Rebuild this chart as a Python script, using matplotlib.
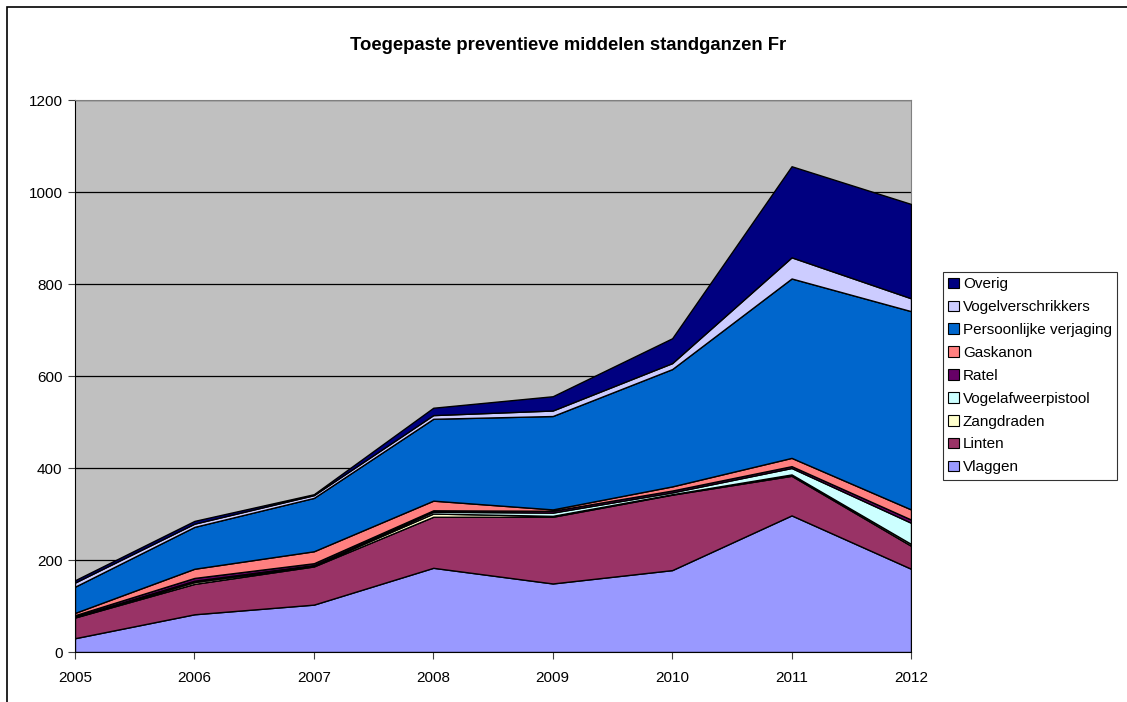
import numpy as np
import matplotlib.pyplot as plt
from matplotlib.patches import Patch, Rectangle

plt.rcParams['font.family'] = ['Liberation Sans', 'DejaVu Sans']

jaren = [2005, 2006, 2007, 2008, 2009, 2010, 2011, 2012]

vlaggen = [30, 82, 103, 183, 149, 178, 297, 181]
linten = [45, 66, 83, 111, 145, 164, 86, 50]
zangdraden = [1, 4, 2, 7, 2, 1, 3, 4]
vogelafweerpistool = [1, 3, 1, 4, 7, 4, 14, 46]
ratel = [3, 6, 4, 3, 4, 4, 4, 7]
gaskanon = [5, 20, 26, 21, 3, 9, 18, 22]
persoonlijk = [57, 91, 116, 178, 203, 255, 390, 431]
vogelverschrikkers = [9, 7, 6, 8, 12, 13, 46, 28]
overig = [5, 6, 2, 16, 31, 54, 198, 205]

namen = ['Vlaggen', 'Linten', 'Zangdraden', 'Vogelafweerpistool', 'Ratel',
         'Gaskanon', 'Persoonlijke verjaging', 'Vogelverschrikkers', 'Overig']
kleuren = ['#9999FF', '#993366', '#FFFFCC', '#CCFFFF', '#660066',
           '#FF8080', '#0066CC', '#CCCCFF', '#000080']

fig = plt.figure(figsize=(11.27, 7.02), dpi=100)
ax = fig.add_axes([75/1127, 50/702, 836/1127, 552/702])

# border round the chart area
fig.patches.append(Rectangle((7/1127, -0.05), 1.2, (702-7)/702 + 0.05, transform=fig.transFigure,
                             fill=False, edgecolor='black', linewidth=1.2))

ax.set_facecolor('#C0C0C0')
ax.stackplot(jaren, vlaggen, linten, zangdraden, vogelafweerpistool, ratel,
             gaskanon, persoonlijk, vogelverschrikkers, overig,
             colors=kleuren, edgecolor='black', linewidth=1.0, zorder=3)

ax.set_xlim(2005, 2012)
ax.set_ylim(0, 1200)
ax.set_yticks(range(0, 1201, 200))
ax.set_xticks(jaren)
ax.grid(axis='y', color='black', linewidth=0.9, zorder=1)
ax.set_axisbelow(True)
ax.tick_params(labelsize=11, length=5, width=0.8, color='#404040')
ax.tick_params(axis='x', pad=9)
ax.tick_params(axis='y', pad=4)
for s in ['top', 'right']:
    ax.spines[s].set_color('#808080')
for s in ['left', 'bottom']:
    ax.spines[s].set_color('black')

fig.text(568/1127, 1 - 46/702, 'Toegepaste preventieve middelen standganzen Fr',
         ha='center', va='center', fontsize=13.3, fontweight='bold')

handles = [Patch(facecolor=c, edgecolor='black', linewidth=0.8, label=n)
           for n, c in zip(namen, kleuren)][::-1]
leg = fig.legend(handles=handles, loc='upper left', bbox_to_anchor=(943/1127, 1 - 272/702),
                 fontsize=11, frameon=True, fancybox=False, edgecolor='black',
                 handlelength=0.7, handleheight=0.7, handletextpad=0.25,
                 labelspacing=0.58, borderpad=0.35, borderaxespad=0)
leg.get_frame().set_linewidth(0.8)

plt.savefig('out.png', dpi=100)
